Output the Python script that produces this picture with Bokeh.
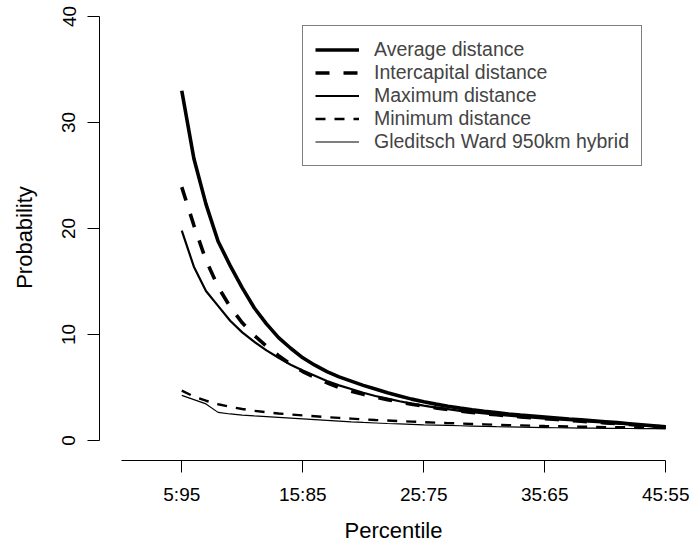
from bokeh.plotting import figure
from bokeh.models import Range1d, FixedTicker, Legend, LegendItem
from bokeh.embed import file_html
from bokeh.resources import INLINE

percentile = [5, 6, 7, 8, 9, 10, 11, 12, 13, 14, 15, 16, 17, 18, 19, 20, 21, 22, 23, 24, 25,
              26, 27, 28, 29, 30, 31, 32, 33, 34, 35, 36, 37, 38, 39, 40, 41, 42, 43, 44, 45]

average = [33.0, 26.6, 22.3, 18.8, 16.5, 14.4, 12.5, 11.0, 9.7, 8.7, 7.8, 7.1, 6.5, 6.0, 5.6,
           5.2, 4.85, 4.5, 4.2, 3.9, 3.65, 3.43, 3.23, 3.05, 2.9, 2.76, 2.63, 2.5, 2.39, 2.3,
           2.21, 2.12, 2.03, 1.95, 1.86, 1.77, 1.68, 1.58, 1.48, 1.38, 1.28]

intercapital = [23.9, 20.3, 17.0, 14.5, 12.6, 11.1, 9.9, 8.9, 8.0, 7.2, 6.5, 5.95, 5.45, 5.0,
                4.65, 4.35, 4.08, 3.85, 3.62, 3.42, 3.24, 3.07, 2.92, 2.78, 2.65, 2.53, 2.42,
                2.32, 2.23, 2.14, 2.06, 1.98, 1.9, 1.82, 1.74, 1.66, 1.58, 1.5, 1.42, 1.34, 1.26]

maximum = [19.8, 16.4, 14.1, 12.7, 11.3, 10.2, 9.3, 8.5, 7.8, 7.15, 6.6, 6.1, 5.6, 5.2, 4.85,
           4.5, 4.2, 3.95, 3.7, 3.48, 3.28, 3.1, 2.95, 2.8, 2.67, 2.55, 2.44, 2.34, 2.25, 2.16,
           2.07, 1.99, 1.91, 1.83, 1.75, 1.67, 1.59, 1.51, 1.43, 1.35, 1.26]

minimum = [4.7, 4.15, 3.75, 3.42, 3.17, 2.97, 2.8, 2.66, 2.55, 2.45, 2.36, 2.28, 2.2, 2.13, 2.06,
           1.99, 1.93, 1.88, 1.83, 1.78, 1.73, 1.68, 1.64, 1.6, 1.56, 1.52, 1.48, 1.45, 1.42,
           1.39, 1.36, 1.34, 1.32, 1.3, 1.28, 1.26, 1.25, 1.24, 1.23, 1.22, 1.21]

gleditsch_ward = [4.25, 3.85, 3.45, 2.65, 2.5, 2.4, 2.32, 2.25, 2.18, 2.11, 2.04, 1.97, 1.9, 1.83,
                  1.76, 1.7, 1.65, 1.6, 1.56, 1.52, 1.48, 1.45, 1.42, 1.39, 1.36, 1.33, 1.3, 1.28,
                  1.26, 1.24, 1.22, 1.2, 1.19, 1.17, 1.16, 1.15, 1.14, 1.13, 1.12, 1.11, 1.1]

x_tick_values = [5, 15, 25, 35, 45]
x_tick_labels = ["5:95", "15:85", "25:75", "35:65", "45:55"]
y_tick_values = [0, 10, 20, 30, 40]

series_names = ["Average distance", "Intercapital distance", "Maximum distance",
                "Minimum distance", "Gleditsch Ward 950km hybrid"]

FONT = "Liberation Sans"

p = figure(width=691, height=546, output_backend="svg", toolbar_location=None,
           x_range=Range1d(-1.8, 46.8), y_range=Range1d(-1.89, 40.19),
           min_border_left=99, min_border_right=4, min_border_top=14, min_border_bottom=86)

p.outline_line_color = None
p.grid.visible = False
p.background_fill_color = "white"

# axes
xa = p.xaxis[0]
xa.ticker = FixedTicker(ticks=x_tick_values)
xa.major_label_overrides = {v: l for v, l in zip(x_tick_values, x_tick_labels)}
xa.bounds = (0, 45)
ya = p.yaxis[0]
ya.ticker = FixedTicker(ticks=y_tick_values)
ya.bounds = (0, 40)
ya.major_label_orientation = "vertical"

for ax in (xa, ya):
    ax.axis_line_color = "black"
    ax.axis_line_width = 1
    ax.major_tick_line_color = "black"
    ax.major_tick_line_width = 1
    ax.major_tick_in = 0
    ax.major_tick_out = 12
    ax.minor_tick_line_color = None
    ax.major_label_text_font = FONT
    ax.major_label_text_font_size = "19px"
    ax.major_label_text_color = "black"
    ax.axis_label_text_font = FONT
    ax.axis_label_text_font_size = "22px"
    ax.axis_label_text_font_style = "normal"
    ax.axis_label_text_color = "black"

xa.axis_label = "Percentile"
xa.major_label_standoff = 11
xa.axis_label_standoff = 10
ya.axis_label = "Probability"
ya.major_label_standoff = 12
ya.axis_label_standoff = 23

r1 = p.line(percentile, average, line_color="black", line_width=3.6)
r2 = p.line(percentile, intercapital, line_color="black", line_width=3.6, line_dash="14 14")
r3 = p.line(percentile, maximum, line_color="black", line_width=2.2)
r4 = p.line(percentile, minimum, line_color="black", line_width=2.4, line_dash="10 9")
r5 = p.line(percentile, gleditsch_ward, line_color="black", line_width=1.2)

legend = Legend(items=[LegendItem(label=n, renderers=[r]) for n, r in
                       zip(series_names, [r1, r2, r3, r4, r5])],
                location=(203, 294), margin=0, padding=12, spacing=0,
                glyph_width=44, glyph_height=23, label_height=23, label_standoff=15,
                label_text_font=FONT, label_text_font_size="19.5px",
                border_line_color="black", border_line_width=1,
                background_fill_color="white", background_fill_alpha=1.0)
p.add_layout(legend)

open("out.html", "w").write(file_html(p, INLINE))
